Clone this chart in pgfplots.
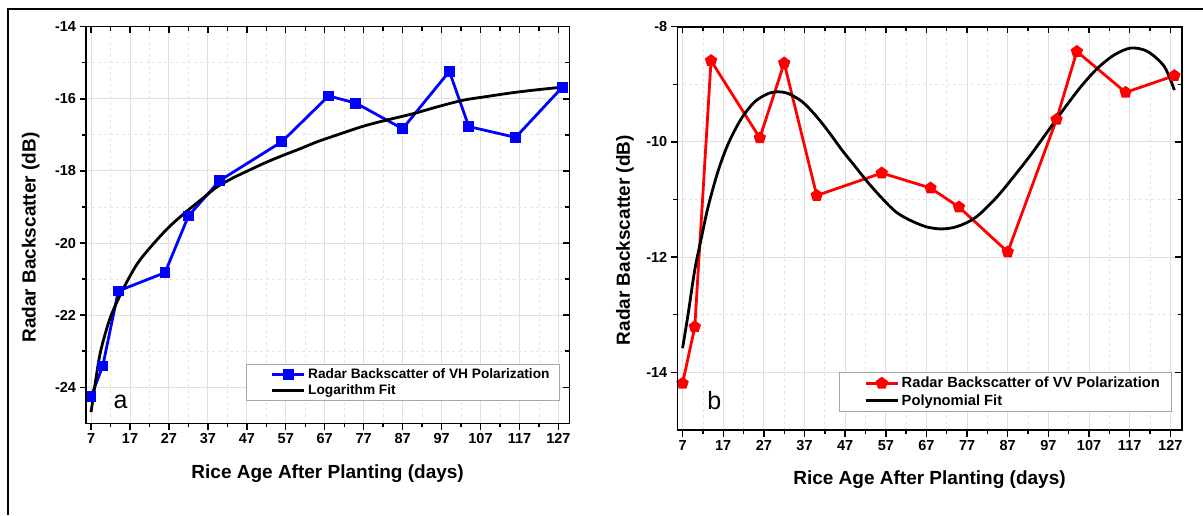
\documentclass[border=0pt]{standalone}
\usepackage{fontspec}
\setmainfont{Liberation Sans}
\usepackage{pgfplots}
\usepackage{pgfplotstable}
\pgfplotsset{compat=1.18}

\pgfplotstableread{
day val
7 -24.26
10 -23.41
14 -21.33
26 -20.82
32 -19.25
40 -18.27
56 -17.19
68 -15.92
75 -16.12
87 -16.83
99 -15.24
104 -16.77
116 -17.07
128 -15.68
}\vhdata

\pgfplotstableread{
day val
7 -24.69
8.2 -23.80
9.5 -22.98
12.0 -22.05
15.5 -21.22
18.9 -20.57
22.3 -20.11
26.6 -19.60
30.9 -19.18
35.1 -18.81
39.4 -18.44
43.7 -18.18
48.0 -17.96
52.2 -17.75
56.5 -17.56
60.8 -17.38
65.1 -17.19
69.4 -17.03
76.9 -16.76
82.9 -16.59
89.8 -16.41
96.0 -16.22
102.5 -16.04
109.0 -15.93
115.3 -15.83
121.5 -15.75
127.7 -15.68
}\vhfit

\pgfplotstableread{
day val
7 -14.19
10 -13.21
14 -8.59
26 -9.93
32 -8.63
40 -10.93
56 -10.54
68 -10.80
75 -11.13
87 -11.91
99 -9.61
104 -8.43
116 -9.14
128 -8.85
}\vvdata

\pgfplotstableread{
day val
7 -13.58
8.4 -12.97
10.0 -12.22
11.7 -11.64
13.3 -11.12
15.8 -10.49
18.3 -10.02
21.5 -9.59
24.8 -9.30
28.1 -9.16
30.6 -9.13
33.0 -9.16
36.4 -9.30
39.6 -9.53
42.9 -9.82
46.2 -10.14
49.5 -10.43
52.8 -10.72
56.1 -10.98
59.4 -11.21
62.7 -11.35
66.8 -11.47
70.5 -11.51
74.0 -11.48
77.5 -11.38
80.3 -11.24
84.4 -10.95
88.5 -10.60
92.6 -10.23
96.8 -9.82
100.9 -9.42
105.0 -9.04
109.1 -8.72
113.2 -8.49
117.3 -8.37
121.4 -8.43
125.5 -8.69
128.0 -9.10
}\vvfit

\pgfplotsset{
  base/.style={
    scale only axis,
    xmin=5.7, xmax=129.8,
    xtick={7,17,...,127},
    minor x tick num=1,
    minor y tick num=1,
    axis line style={line width=1.6pt},
    every tick/.style={black, line width=1.4pt},
    major tick length=6.5pt,
    minor tick length=4pt,
  },
  mainax/.style={
    base,
    xtick pos=bottom, ytick pos=left,
    tick align=outside,
    grid=both,
    major grid style={gray!25, line width=1pt},
    minor grid style={gray!20, dashed, line width=0.8pt},
    /pgf/number format/assume math mode=true,
    ticklabel style={font=\bfseries\fontsize{14.5}{14.5}\selectfont},
    label style={font=\bfseries\fontsize{19}{19}\selectfont},
    legend cell align=left,
    legend image code/.code={
      \path (0pt,0pt) (58pt,0pt);
      \draw[mark repeat=2,mark phase=2,##1] plot coordinates {(25pt,0pt) (41pt,0pt) (57pt,0pt)};
    },
  },
  overax/.style={
    base,
    xtick pos=top, ytick pos=right,
    tick align=inside,
    xticklabels={}, yticklabels={},
  },
}

\begin{document}
\begin{tikzpicture}[x=1pt,y=1pt]
\useasboundingbox (0,0) rectangle (1203,515);
\draw[line width=2pt] (8,0) -- (8,506) -- (1203,506);

% ---------------- left panel ----------------
\begin{axis}[mainax,
  at={(86pt,91.7pt)}, anchor=south west,
  width=483.3pt, height=396.6pt,
  ymin=-25, ymax=-14,
  ytick={-24,-22,-20,-18,-16,-14},
  xlabel={Rice Age After Planting (days)},
  ylabel={Radar Backscatter (dB)},
  xlabel style={at={(axis description cs:0.5,0)}, anchor=center, yshift=-50pt},
  ylabel style={at={(axis description cs:-0.1146,0.4685)}, anchor=center, rotate=0},
  legend style={at={(axis description cs:0.981,0.057)}, anchor=south east,
    draw=gray!70, line width=0.8pt, inner xsep=0pt, inner ysep=2.5pt,
    font=\bfseries\fontsize{13.7}{13.7}\selectfont,
    nodes={inner sep=1.5pt}, row sep=2pt},
]
\addplot[blue, line width=2.8pt, mark=square*, mark size=4pt, mark options={solid}] table[x=day,y=val]{\vhdata};
\addlegendentry{\makebox[250pt][l]{Radar Backscatter of VH Polarization}}
\addplot[black, line width=2.8pt, smooth, mark=none] table[x=day,y=val]{\vhfit};
\addlegendentry{\makebox[250pt][l]{Logarithm Fit}}
\node[anchor=base, font=\fontsize{25}{25}\selectfont] at (axis cs:14.6,-24.6) {a};
\end{axis}
\begin{axis}[overax,
  at={(86pt,91.7pt)}, anchor=south west,
  width=483.3pt, height=396.6pt,
  ymin=-25, ymax=-14,
  ytick={-24,-22,-20,-18,-16,-14},
]
\end{axis}

% ---------------- right panel ----------------
\begin{axis}[mainax,
  at={(677.3pt,85pt)}, anchor=south west,
  width=504.4pt, height=403.3pt,
  ymin=-15, ymax=-8,
  ytick={-14,-12,-10,-8},
  xlabel={Rice Age After Planting (days)},
  ylabel={Radar Backscatter (dB)},
  xlabel style={at={(axis description cs:0.5,0)}, anchor=center, yshift=-50pt},
  ylabel style={at={(axis description cs:-0.1037,0.471)}, anchor=center, rotate=0},
  legend style={at={(axis description cs:0.980,0.045)}, anchor=south east,
    draw=gray!70, line width=0.8pt, inner xsep=0pt, inner ysep=3pt,
    font=\bfseries\fontsize{14.7}{14.7}\selectfont,
    nodes={inner sep=1.5pt}, row sep=2.5pt},
]
\addplot[red, line width=2.8pt, mark=pentagon*, mark size=4.8pt, mark options={solid}] table[x=day,y=val]{\vvdata};
\addlegendentry{\makebox[268pt][l]{Radar Backscatter of VV Polarization}}
\addplot[black, line width=2.8pt, smooth, mark=none] table[x=day,y=val]{\vvfit};
\addlegendentry{\makebox[268pt][l]{Polynomial Fit}}
\node[anchor=base, font=\fontsize{25}{25}\selectfont] at (axis cs:14.8,-14.65) {b};
\end{axis}
\begin{axis}[overax,
  at={(677.3pt,85pt)}, anchor=south west,
  width=504.4pt, height=403.3pt,
  ymin=-15, ymax=-8,
  ytick={-14,-12,-10,-8},
]
\end{axis}
\end{tikzpicture}
\end{document}
